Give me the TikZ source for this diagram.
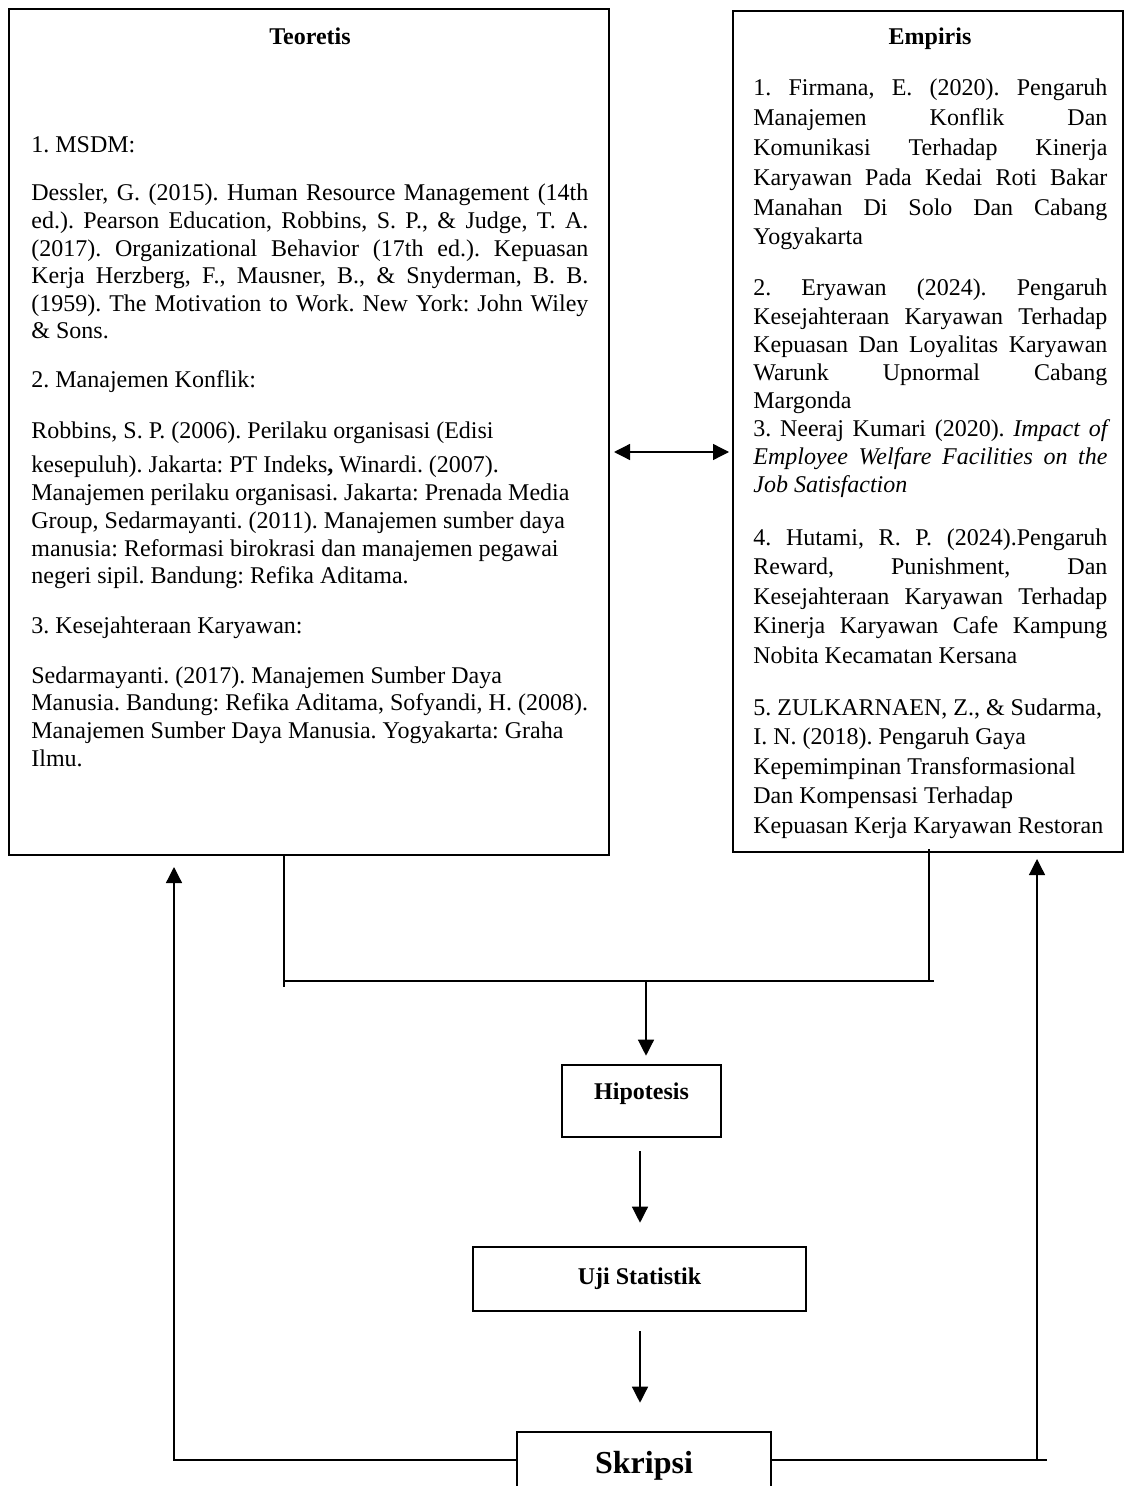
\documentclass[tikz,border=0pt]{standalone}
\usepackage{fontspec}
\setmainfont{Liberation Serif}
\usetikzlibrary{arrows.meta}
\AtBeginDocument{\frenchspacing}
\begin{document}
\begin{tikzpicture}[x=0.5pt,y=-0.5pt,
  bigbox/.style={draw, line width=1pt, inner sep=0pt},
  flowbox/.style={draw, line width=1.3pt, inner sep=0pt, font=\bfseries\fontsize{12}{14}\selectfont},
  title/.style={anchor=base, inner sep=0pt, font=\bfseries\fontsize{12}{14}\selectfont},
  single/.style={anchor=base west, inner sep=0pt, font=\fontsize{12}{14}\selectfont},
  ljust/.style={anchor=base west, inner sep=0pt, text width=278.5pt, align=justify, font=\fontsize{12}{13.8}\selectfont},
  lrag/.style={anchor=base west, inner sep=0pt, text width=300pt, align=flush left, font=\fontsize{12}{13.85}\selectfont},
  rjust/.style={anchor=base west, inner sep=0pt, text width=177pt, align=justify},
  rrag/.style={anchor=base west, inner sep=0pt, text width=190pt, align=flush left, font=\fontsize{12}{14.75}\selectfont},
  conn/.style={line width=0.65pt},
  arr/.style={line width=0.65pt, -{Triangle[length=8pt,width=8pt]}},
  dblarr/.style={line width=0.65pt, {Triangle[length=8pt,width=8pt]}-{Triangle[length=8pt,width=8pt]}}
]
\frenchspacing
\useasboundingbox (0,0) rectangle (1125,1486);
\fill[white] (0,0) rectangle (1125,1486);

% main boxes
\node[bigbox, minimum width=300pt, minimum height=423pt] (teo) at (309,432) {};
\node[bigbox, minimum width=195pt, minimum height=420.5pt] (emp) at (928,431.5) {};

% Teoretis box content
\node[title] (teoT) at (310,45) {Teoretis};
\node[single] (msdm) at (31,153) {1. MSDM:};
\node[ljust] (dessler) at (31,201) {Dessler, G. (2015). Human Resource Management (14th\linebreak
ed.). Pearson Education, Robbins, S. P., \& Judge, T. A.\linebreak
(2017). Organizational Behavior (17th ed.). Kepuasan\linebreak
Kerja Herzberg, F., Mausner, B., \& Snyderman, B. B.\linebreak
(1959). The Motivation to Work. New York: John Wiley\linebreak
\& Sons.};
\node[single] (mk) at (31,388) {2. Manajemen Konflik:};
\node[single] (robbins) at (31,438) {Robbins, S. P. (2006). Perilaku organisasi (Edisi};
\node[lrag] (kesep) at (31,473) {kesepuluh). Jakarta: PT Indeks\textbf{,} Winardi. (2007).\\
Manajemen perilaku organisasi. Jakarta: Prenada Media\\
Group, Sedarmayanti. (2011). Manajemen sumber daya\\
manusia: Reformasi birokrasi dan manajemen pegawai\\
negeri sipil. Bandung: Refika Aditama.};
\node[single] (kk) at (31,633) {3. Kesejahteraan Karyawan:};
\node[lrag] (sedar) at (31,683) {Sedarmayanti. (2017). Manajemen Sumber Daya\\
Manusia. Bandung: Refika Aditama, Sofyandi, H. (2008).\\
Manajemen Sumber Daya Manusia. Yogyakarta: Graha\\
Ilmu.};

% Empiris box content
\node[title] (empT) at (930,45) {Empiris};
\node[rjust, font=\fontsize{12}{14.9}\selectfont] (e1) at (753,96) {1. Firmana, E. (2020). Pengaruh\linebreak
Manajemen Konflik Dan\linebreak
Komunikasi Terhadap Kinerja\linebreak
Karyawan Pada Kedai Roti Bakar\linebreak
Manahan Di Solo Dan Cabang\linebreak
Yogyakarta};
\node[rjust, font=\fontsize{12}{14.05}\selectfont] (e2) at (753,296) {2. Eryawan (2024). Pengaruh\linebreak
Kesejahteraan Karyawan Terhadap\linebreak
Kepuasan Dan Loyalitas Karyawan\linebreak
Warunk Upnormal Cabang\linebreak
Margonda\par
3. Neeraj Kumari (2020). \textit{Impact of\linebreak
Employee Welfare Facilities on the\linebreak
Job Satisfaction}};
\node[rjust, font=\fontsize{12}{14.75}\selectfont] (e4) at (753,545) {4. Hutami, R. P. (2024).Pengaruh\linebreak
Reward, Punishment, Dan\linebreak
Kesejahteraan Karyawan Terhadap\linebreak
Kinerja Karyawan Cafe Kampung\linebreak
Nobita Kecamatan Kersana};
\node[rrag] (e5) at (753,715) {5. ZULKARNAEN, Z., \& Sudarma,\\
I. N. (2018). Pengaruh Gaya\\
Kepemimpinan Transformasional\\
Dan Kompensasi Terhadap\\
Kepuasan Kerja Karyawan Restoran};

% flow boxes
\node[flowbox, minimum width=79.5pt, minimum height=36pt, text height=8pt, text depth=10pt] (hip) at (641.5,1101) {Hipotesis};
\node[flowbox, minimum width=166.5pt, minimum height=32pt] (uji) at (639.5,1279) {Uji Statistik};
\node[flowbox, minimum width=127pt, minimum height=34pt, font=\bfseries\fontsize{16}{18}\selectfont] (skr) at (644,1466) {Skripsi};

% connectors
\draw[dblarr, shorten <=2pt, shorten >=1.5pt] (teo.east |- 0,452) -- (emp.west |- 0,452);

\coordinate (jl) at (284,981);
\coordinate (jr) at (929,981);
\coordinate (jre) at (934,981);
\coordinate (jm) at (646,981);
\coordinate (jlt) at (284,987);
\draw[conn] (teo.south -| jl) -- (jlt);
\draw[conn] (jl) -- (jre);
\draw[conn] ([yshift=2pt]emp.south -| jr) -- (jr);
\draw[arr, shorten >=4pt] (jm) -- (hip.north -| jm);

\coordinate (cx) at (640,0);
\draw[arr, shorten <=6.5pt, shorten >=11.5pt] (hip.south -| cx) -- (uji.north -| cx);
\draw[arr, shorten <=9.5pt, shorten >=14pt] (uji.south -| cx) -- (skr.north -| cx);

\coordinate (fl) at (174,1460);
\coordinate (fr) at (1037,1460);
\coordinate (fre) at (1047,1460);
\draw[arr, shorten >=5.5pt] (skr.west |- fl) -- (fl) -- (teo.south -| fl);
\draw[conn] (skr.east |- fr) -- (fre);
\draw[arr, shorten >=3pt] (fr) -- (emp.south -| fr);
\end{tikzpicture}
\end{document}
